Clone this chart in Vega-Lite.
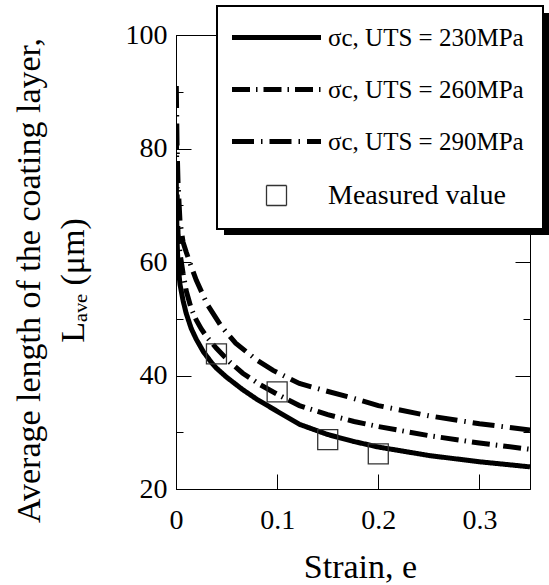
{
  "$schema": "https://vega.github.io/schema/vega-lite/v6.json",
  "width": 354,
  "height": 454,
  "autosize": "none",
  "padding": {"left": 176, "top": 35, "right": 19, "bottom": 96},
  "background": "white",
  "config": {
    "font": "Liberation Serif",
    "view": {"stroke": "black", "strokeWidth": 1},
    "legend": {"strokeWidth": 2},
    "axis": {
      "grid": false,
      "domainColor": "black",
      "tickColor": "black",
      "labelColor": "black",
      "titleColor": "black",
      "labelFont": "Liberation Serif",
      "titleFont": "Liberation Serif",
      "titleFontWeight": "normal",
      "labelFontSize": 28,
      "titleFontSize": 34,
      "labelFlush": false
    }
  },
  "datasets": {
    "curves": [
      {"strain": 0.0003, "L": 74, "series": "σc, UTS = 230MPa"},
      {"strain": 0.001, "L": 64, "series": "σc, UTS = 230MPa"},
      {"strain": 0.002, "L": 59.5, "series": "σc, UTS = 230MPa"},
      {"strain": 0.004, "L": 56, "series": "σc, UTS = 230MPa"},
      {"strain": 0.007, "L": 53.2, "series": "σc, UTS = 230MPa"},
      {"strain": 0.01, "L": 51, "series": "σc, UTS = 230MPa"},
      {"strain": 0.015, "L": 48.3, "series": "σc, UTS = 230MPa"},
      {"strain": 0.02, "L": 46.4, "series": "σc, UTS = 230MPa"},
      {"strain": 0.027, "L": 44.2, "series": "σc, UTS = 230MPa"},
      {"strain": 0.035, "L": 42.3, "series": "σc, UTS = 230MPa"},
      {"strain": 0.04, "L": 41.3, "series": "σc, UTS = 230MPa"},
      {"strain": 0.05, "L": 39.7, "series": "σc, UTS = 230MPa"},
      {"strain": 0.066, "L": 37.5, "series": "σc, UTS = 230MPa"},
      {"strain": 0.08, "L": 35.8, "series": "σc, UTS = 230MPa"},
      {"strain": 0.1, "L": 33.7, "series": "σc, UTS = 230MPa"},
      {"strain": 0.122, "L": 31.4, "series": "σc, UTS = 230MPa"},
      {"strain": 0.15, "L": 29.6, "series": "σc, UTS = 230MPa"},
      {"strain": 0.175, "L": 28.4, "series": "σc, UTS = 230MPa"},
      {"strain": 0.2, "L": 27.4, "series": "σc, UTS = 230MPa"},
      {"strain": 0.25, "L": 25.9, "series": "σc, UTS = 230MPa"},
      {"strain": 0.3, "L": 24.8, "series": "σc, UTS = 230MPa"},
      {"strain": 0.35, "L": 23.9, "series": "σc, UTS = 230MPa"},
      {"strain": 0.0003, "L": 83, "series": "σc, UTS = 260MPa"},
      {"strain": 0.001, "L": 73, "series": "σc, UTS = 260MPa"},
      {"strain": 0.002, "L": 65, "series": "σc, UTS = 260MPa"},
      {"strain": 0.004, "L": 61.5, "series": "σc, UTS = 260MPa"},
      {"strain": 0.007, "L": 58, "series": "σc, UTS = 260MPa"},
      {"strain": 0.01, "L": 55, "series": "σc, UTS = 260MPa"},
      {"strain": 0.015, "L": 51.8, "series": "σc, UTS = 260MPa"},
      {"strain": 0.02, "L": 49.8, "series": "σc, UTS = 260MPa"},
      {"strain": 0.025, "L": 48.2, "series": "σc, UTS = 260MPa"},
      {"strain": 0.03, "L": 46.9, "series": "σc, UTS = 260MPa"},
      {"strain": 0.04, "L": 44.8, "series": "σc, UTS = 260MPa"},
      {"strain": 0.053, "L": 42.4, "series": "σc, UTS = 260MPa"},
      {"strain": 0.066, "L": 40.4, "series": "σc, UTS = 260MPa"},
      {"strain": 0.083, "L": 38.4, "series": "σc, UTS = 260MPa"},
      {"strain": 0.1, "L": 36.7, "series": "σc, UTS = 260MPa"},
      {"strain": 0.122, "L": 34.7, "series": "σc, UTS = 260MPa"},
      {"strain": 0.15, "L": 33.1, "series": "σc, UTS = 260MPa"},
      {"strain": 0.176, "L": 31.9, "series": "σc, UTS = 260MPa"},
      {"strain": 0.2, "L": 31.0, "series": "σc, UTS = 260MPa"},
      {"strain": 0.25, "L": 29.4, "series": "σc, UTS = 260MPa"},
      {"strain": 0.3, "L": 28.1, "series": "σc, UTS = 260MPa"},
      {"strain": 0.35, "L": 27.0, "series": "σc, UTS = 260MPa"},
      {"strain": 0.0003, "L": 91, "series": "σc, UTS = 290MPa"},
      {"strain": 0.001, "L": 81, "series": "σc, UTS = 290MPa"},
      {"strain": 0.002, "L": 74, "series": "σc, UTS = 290MPa"},
      {"strain": 0.004, "L": 67, "series": "σc, UTS = 290MPa"},
      {"strain": 0.007, "L": 63.5, "series": "σc, UTS = 290MPa"},
      {"strain": 0.01, "L": 61.8, "series": "σc, UTS = 290MPa"},
      {"strain": 0.0145, "L": 59.5, "series": "σc, UTS = 290MPa"},
      {"strain": 0.02, "L": 56.8, "series": "σc, UTS = 290MPa"},
      {"strain": 0.031, "L": 52.5, "series": "σc, UTS = 290MPa"},
      {"strain": 0.045, "L": 48.6, "series": "σc, UTS = 290MPa"},
      {"strain": 0.059, "L": 45.7, "series": "σc, UTS = 290MPa"},
      {"strain": 0.08, "L": 42.7, "series": "σc, UTS = 290MPa"},
      {"strain": 0.096, "L": 40.9, "series": "σc, UTS = 290MPa"},
      {"strain": 0.122, "L": 38.6, "series": "σc, UTS = 290MPa"},
      {"strain": 0.148, "L": 37.3, "series": "σc, UTS = 290MPa"},
      {"strain": 0.175, "L": 36.0, "series": "σc, UTS = 290MPa"},
      {"strain": 0.2, "L": 34.7, "series": "σc, UTS = 290MPa"},
      {"strain": 0.25, "L": 32.9, "series": "σc, UTS = 290MPa"},
      {"strain": 0.3, "L": 31.5, "series": "σc, UTS = 290MPa"},
      {"strain": 0.35, "L": 30.4, "series": "σc, UTS = 290MPa"}
    ],
    "measured": [
      {"strain": 0.04, "L": 43.8, "kind": "Measured value"},
      {"strain": 0.1, "L": 37.1, "kind": "Measured value"},
      {"strain": 0.15, "L": 28.7, "kind": "Measured value"},
      {"strain": 0.2, "L": 26.2, "kind": "Measured value"}
    ]
  },
  "layer": [
    {
      "data": {"name": "curves"},
      "mark": {"type": "line", "strokeWidth": 5, "color": "black", "strokeCap": "butt", "clip": true},
      "encoding": {
        "x": {
          "field": "strain", "type": "quantitative",
          "scale": {"domain": [0, 0.35], "nice": false, "zero": false},
          "axis": {
            "orient": "bottom", "values": [0, 0.1, 0.2, 0.3], "tickSize": -15, "format": "~g",
            "labelPadding": 32, "title": "Strain, e",
            "titleX": 184, "titleY": 88, "titleBaseline": "alphabetic", "titleAlign": "center"
          }
        },
        "y": {
          "field": "L", "type": "quantitative",
          "scale": {"domain": [20, 100], "nice": false, "zero": false},
          "axis": {
            "orient": "left", "values": [20, 40, 60, 80, 100], "tickSize": -15,
            "labelPadding": 24,
            "title": ["Average length of the coating layer,", "Lₐᵥₑ (μm)"],
            "titleLineHeight": 44, "titleX": -130, "titleY": 245, "titleAngle": -90,
            "titleBaseline": "bottom", "titleAlign": "center"
          }
        },
        "strokeDash": {
          "field": "series", "type": "nominal",
          "scale": {
            "domain": ["σc, UTS = 230MPa", "σc, UTS = 260MPa", "σc, UTS = 290MPa", "Measured value"],
            "range": [[1, 0], [18, 6, 1.5, 6], [22, 7, 1.5, 7], [1, 0]]
          },
          "legend": {
            "orient": "none", "legendX": 41, "legendY": -29, "zindex": 2,
            "title": null, "fillColor": "white", "strokeColor": "black",
            "padding": 19, "symbolType": "stroke", "symbolSize": 400, "symbolOffset": 28,
            "symbolStrokeWidth": 5, "symbolStrokeColor": "black",
            "labelFontSize": 25, "labelFont": "Liberation Serif", "labelColor": "black",
            "labelOffset": 39, "rowPadding": 26, "labelLimit": 400,
            "encoding": {
              "symbols": {
                "shape": {"value": {"expr": "datum.value === 'Measured value' ? 'square' : 'stroke'"}},
                "size": {"value": {"expr": "datum.value === 'Measured value' ? 400 : 7921"}},
                "strokeWidth": {"value": {"expr": "datum.value === 'Measured value' ? 1.3 : 5"}},
                "stroke": {"value": {"expr": "datum.value === 'Measured value' ? '#333333' : 'black'"}},
                "fill": {"value": "transparent"}
              },
              "labels": {
                "fontSize": {"value": {"expr": "datum.value === 'Measured value' ? 28 : 25"}}
              }
            }
          }
        }
      }
    },
    {
      "data": {"name": "measured"},
      "mark": {"type": "point", "filled": false, "size": 400, "stroke": "#333333", "strokeWidth": 1.3, "opacity": 1},
      "encoding": {
        "x": {
          "field": "strain", "type": "quantitative",
          "axis": {"orient": "top", "values": [0, 0.1, 0.2, 0.3], "tickSize": -15, "labels": false, "domain": false, "title": null}
        },
        "y": {
          "field": "L", "type": "quantitative",
          "axis": {"orient": "right", "values": [20, 40, 60, 80, 100], "tickSize": -15, "labels": false, "domain": false, "title": null}
        },
        "shape": {
          "field": "kind", "type": "nominal",
          "scale": {"domain": ["a", "b", "c", "Measured value"], "range": ["square", "square", "square", "square"]},
          "legend": {
            "orient": "none", "legendX": 49, "legendY": -21, "zindex": 1,
            "title": null, "fillColor": "black", "strokeColor": "black",
            "padding": 19, "symbolType": "stroke", "symbolSize": 100000, "symbolOffset": 0, "symbolStrokeWidth": 5,
            "symbolStrokeColor": "black", "symbolFillColor": "black",
            "labelFontSize": 25, "labelFont": "Liberation Serif", "labelColor": "black",
            "labelOffset": 10, "rowPadding": 26, "labelLimit": 400, "clipHeight": 25.5,
            "labelExpr": "''",
            "encoding": {
              "symbols": {
                "shape": {"value": "stroke"},
                "size": {"value": 100000},
                "strokeWidth": {"value": 5},
                "stroke": {"value": "black"}
              }
            }
          }
        }
      }
    },
    {
      "data": {"name": "measured"},
      "mark": {"type": "point", "opacity": 0},
      "encoding": {
        "x": {"field": "strain", "type": "quantitative", "axis": null},
        "y": {
          "field": "L", "type": "quantitative",
          "axis": {"orient": "left", "values": [30, 50, 70, 90], "tickSize": -7, "labels": false, "domain": false, "title": null}
        }
      }
    },
    {
      "data": {"name": "measured"},
      "mark": {"type": "point", "opacity": 0},
      "encoding": {
        "x": {"field": "strain", "type": "quantitative", "axis": null},
        "y": {
          "field": "L", "type": "quantitative",
          "axis": {"orient": "right", "values": [30, 50, 70, 90], "tickSize": -7, "labels": false, "domain": false, "title": null}
        }
      }
    }
  ],
  "resolve": {
    "axis": {"x": "independent", "y": "independent"},
    "legend": {"shape": "independent", "strokeDash": "independent"}
  }
}
